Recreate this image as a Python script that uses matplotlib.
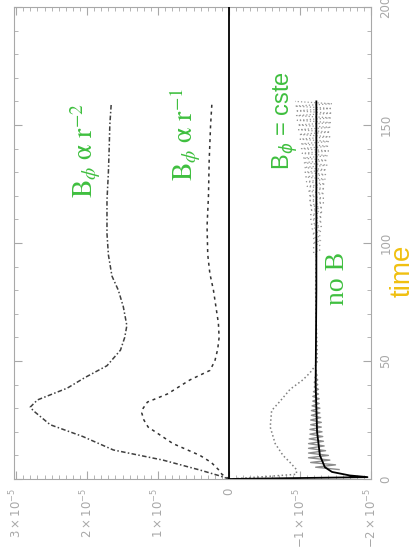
import matplotlib
matplotlib.use("Agg")
import matplotlib.pyplot as plt
from matplotlib.ticker import FixedLocator, FixedFormatter, MultipleLocator

# values are in units of 1e-5
t_r2 = [0, 1.5, 3.8, 8, 12.3, 18, 23, 29, 30.5, 33.5, 38.5, 43, 48, 54.6, 60, 65, 73, 80,
        86, 95, 104, 118, 130, 139, 150, 159]
v_r2 = [0, 0.15, 0.41, 0.93, 1.63, 2.06, 2.52, 2.76, 2.8, 2.7, 2.28, 2.03, 1.72, 1.53, 1.47,
        1.44, 1.49, 1.56, 1.65, 1.70, 1.72, 1.72, 1.70, 1.69, 1.68, 1.66]

t_r1 = [0, 2, 4, 7, 10, 15, 22, 25, 28, 30, 32.6, 36, 42, 46, 50, 55, 60, 66, 72, 80, 87,
        95, 107, 120, 135, 150, 160]
v_r1 = [0, 0.1, 0.15, 0.25, 0.41, 0.79, 1.14, 1.2, 1.23, 1.21, 1.15, 0.87, 0.55, 0.27, 0.2,
        0.16, 0.14, 0.15, 0.18, 0.22, 0.27, 0.3, 0.31, 0.29, 0.28, 0.26, 0.24]

t_cste = [0, 1, 2, 4, 7, 10, 15, 22, 29, 33, 38, 42, 45, 49, 55, 65, 80, 95]
v_cste = [0, -0.5, -0.95, -0.95, -0.86, -0.76, -0.65, -0.58, -0.6, -0.72, -0.86, -1.04,
          -1.14, -1.24, -1.24, -1.23, -1.22, -1.23]

t_fan = [95, 96, 97, 98, 99, 100, 101, 102, 103, 104, 105, 106, 107, 108, 109, 110, 111,
         112, 113, 114, 115, 116, 117, 118, 119, 120, 121, 122, 123, 124, 125, 126, 127,
         128, 129, 130, 131, 132, 133, 134, 135, 136, 137, 138, 139, 140, 141, 142, 143,
         144, 145, 146, 147, 148, 149, 150, 151, 152, 153, 154, 155, 156, 157, 158, 159, 160]
v_fan = [-1.23, -1.19, -1.28, -1.19, -1.28, -1.18, -1.29, -1.18, -1.29, -1.17, -1.30,
         -1.17, -1.30, -1.16, -1.31, -1.15, -1.31, -1.15, -1.32, -1.14, -1.32, -1.13,
         -1.33, -1.12, -1.33, -1.12, -1.34, -1.11, -1.35, -1.10, -1.35, -1.09, -1.36,
         -1.08, -1.36, -1.07, -1.37, -1.06, -1.38, -1.05, -1.38, -1.04, -1.39, -1.03,
         -1.40, -1.02, -1.40, -1.01, -1.41, -1.00, -1.42, -0.99, -1.42, -0.98, -1.43,
         -0.97, -1.44, -0.96, -1.44, -0.95, -1.45, -0.94, -1.45, -0.93, -1.45, -0.93]

t_nob = [0, 0.8, 1.5, 3, 5, 10, 20, 40, 80, 120, 160]
v_nob = [0, -1.95, -1.7, -1.45, -1.35, -1.28, -1.24, -1.22, -1.23, -1.23, -1.23]

t_osc = [4, 5, 6, 7, 8, 9, 10, 11, 12, 13, 14, 15, 16, 17, 18, 19, 20, 21, 22, 23, 24, 25,
         26, 27, 28, 29, 30, 31, 32, 33, 34, 35, 36, 37, 38, 39, 40, 41, 42, 43, 44, 45, 46]
v_osc = [-1.55, -1.22, -1.50, -1.15, -1.42, -1.12, -1.40, -1.12, -1.36, -1.12, -1.34,
         -1.12, -1.33, -1.13, -1.32, -1.14, -1.31, -1.14, -1.30, -1.15, -1.30, -1.15,
         -1.29, -1.16, -1.28, -1.16, -1.28, -1.17, -1.27, -1.18, -1.27, -1.18, -1.26,
         -1.19, -1.26, -1.20, -1.25, -1.20, -1.25, -1.21, -1.24, -1.22, -1.23]

val_ticks = [3, 2, 1, 0, -1, -2]
val_labels = [r"$3\times10^{-5}$", r"$2\times10^{-5}$", r"$1\times10^{-5}$", "0",
              r"$-1\times10^{-5}$", r"$-2\times10^{-5}$"]
time_ticks = [0, 50, 100, 150, 200]

green = "#3fbf3f"
gray = "#a8a8a8"

plt.rcParams["mathtext.fontset"] = "dejavusans"
fig = plt.figure(figsize=(4.2, 5.56), dpi=100)
ax = fig.add_axes([14 / 420, 1 - 479 / 556, 357 / 420, 472 / 556])

ax.axvline(0, color="black", lw=1.3, zorder=3)
ax.plot(v_r2, t_r2, color="0.25", lw=1.1, ls=(0, (3, 1.5, 1, 1.5)))
ax.plot(v_r1, t_r1, color="0.2", lw=1.1, ls=(0, (2, 2.5)))
ax.plot(v_cste, t_cste, color="0.5", lw=1.1, ls=":")
ax.plot(v_fan, t_fan, color="0.6", lw=0.9, ls=":")
ax.plot(v_osc, t_osc, color="0.55", lw=1.0)
ax.plot(v_nob, t_nob, color="black", lw=1.3)

ax.set_xlim(3.03, -2.0)
ax.set_ylim(0, 200)

ax.xaxis.set_major_locator(FixedLocator(val_ticks))
ax.xaxis.set_major_formatter(FixedFormatter(val_labels))
ax.xaxis.set_minor_locator(MultipleLocator(0.1))
ax.yaxis.set_major_locator(FixedLocator(time_ticks))
ax.yaxis.set_minor_locator(MultipleLocator(10))
ax.tick_params(which="both", direction="in", top=True, bottom=True, left=True, right=True,
               labelleft=False, labelright=True, color=gray, labelcolor=gray, labelsize=8.5,
               pad=6)
ax.tick_params(which="major", length=6)
ax.tick_params(which="minor", length=3)
for lab in ax.get_xticklabels():
    lab.set_rotation(90)
for lab in ax.get_yticklabels():
    lab.set_rotation(90)
    lab.set_va("center")
for sp in ax.spines.values():
    sp.set_color(gray)

serif = ["Liberation Serif", "DejaVu Serif"]
ax.text(2.02, 139, r"$\mathrm{B}_{\phi}\ \mathrm{\alpha}\ \mathrm{r}^{-2}$", rotation=90,
        color=green, ha="center", va="center", fontsize=20, math_fontfamily="stix")
ax.text(0.62, 146, r"$\mathrm{B}_{\phi}\ \mathrm{\alpha}\ \mathrm{r}^{-1}$", rotation=90,
        color=green, ha="center", va="center", fontsize=20, math_fontfamily="stix")
ax.text(-0.79, 152, r"B$_{\phi}$ = cste", rotation=90, color=green, ha="center",
        va="center", fontsize=17, family=["Liberation Sans"])
ax.text(-1.53, 85, "no B", rotation=90, color=green, ha="center", va="center",
        fontsize=20, family=serif)
fig.text(403 / 420, 1 - 271 / 556, "time", rotation=90, color="#f0c010", ha="center",
         va="center", fontsize=20, family=["Liberation Sans"])

fig.savefig("out.png")
